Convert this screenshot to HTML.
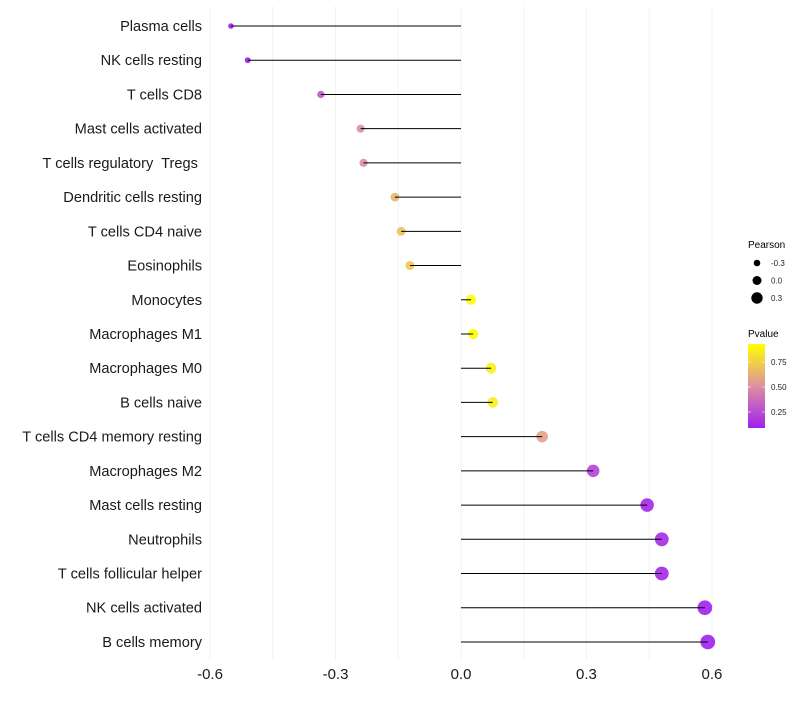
<!DOCTYPE html>
<html><head><meta charset="utf-8"><style>
body{margin:0;background:#fff;font-family:"Liberation Sans",sans-serif}
text{white-space:pre}
</style></head><body>
<svg id="c" width="800" height="700" xmlns="http://www.w3.org/2000/svg"></svg>
<script>
const categories=["Plasma cells","NK cells resting","T cells CD8","Mast cells activated","T cells regulatory  Tregs ","Dendritic cells resting","T cells CD4 naive","Eosinophils","Monocytes","Macrophages M1","Macrophages M0","B cells naive","T cells CD4 memory resting","Macrophages M2","Mast cells resting","Neutrophils","T cells follicular helper","NK cells activated","B cells memory"];
const pearson=[-0.55,-0.51,-0.335,-0.24,-0.233,-0.158,-0.143,-0.122,0.024,0.029,0.072,0.076,0.194,0.316,0.445,0.48,0.48,0.583,0.59];
const pvalue=[0.02,0.03,0.3,0.5,0.5,0.65,0.7,0.72,0.92,0.92,0.86,0.86,0.57,0.22,0.12,0.13,0.12,0.04,0.03];
const xTicks=[-0.6,-0.3,0.0,0.3,0.6];
const sizeLegend=[-0.3,0.0,0.3];
const pTicks=[0.25,0.5,0.75];
const NS="http://www.w3.org/2000/svg";
const svg=document.getElementById('c');
const x=v=>461+v*418.3;
const y=i=>26+i*34.22;
const r=v=>5+4*v;
const stops=[[160,32,240],[222,145,160],[255,255,0]];
function col(p){const t=Math.max(0,Math.min(1,(p-0.09)/0.84));const s=t<0.5?0:1;const f=(t-s*0.5)/0.5;const a=stops[s],b=stops[s+1];return `rgb(${a.map((c,k)=>Math.round(c+(b[k]-c)*f)).join(',')})`;}
function el(t,a){const e=document.createElementNS(NS,t);for(const k in a)e.setAttribute(k,a[k]);svg.appendChild(e);return e;}
for(let v=-0.6;v<=0.601;v+=0.15){
 const g=el('line',{x1:x(v),x2:x(v),y1:6,y2:660,stroke:'#f3f3f3','stroke-width':1});
 
 
}
xTicks.forEach(v=>{
 const t=el('text',{x:x(v),y:679,'text-anchor':'middle','font-size':15,fill:'#1a1a1a'});
 t.textContent=v.toFixed(1);
 
 
});
categories.forEach((c,i)=>{
 const t=el('text',{x:202,y:y(i)+5,'text-anchor':'end','font-size':14.6,fill:'#1a1a1a'});
 t.textContent=c;
 
 
 const p=el('circle',{cx:x(pearson[i]),cy:y(i),r:r(pearson[i]),fill:col(pvalue[i]),'fill-opacity':0.9});
 
 
 const l=el('line',{x1:x(0),x2:x(pearson[i]),y1:y(i),y2:y(i),stroke:'#000','stroke-width':1});
 
 
});
let t=el('text',{x:748,y:248,'font-size':10,fill:'#000'});t.textContent='Pearson';


sizeLegend.forEach((v,i)=>{
 const cy=263+i*17.5;
 const c=el('circle',{cx:757,cy:cy,r:r(v)-0.5,fill:'#000'});
 
 
 const tt=el('text',{x:771,y:cy+3,'font-size':8,fill:'#222'});tt.textContent=v.toFixed(1);
 
 
});
t=el('text',{x:748,y:337,'font-size':10,fill:'#000'});t.textContent='Pvalue';


const defs=el('defs',{});
const lg=document.createElementNS(NS,'linearGradient');lg.setAttribute('id','g');lg.setAttribute('x1',0);lg.setAttribute('y1',1);lg.setAttribute('x2',0);lg.setAttribute('y2',0);
stops.forEach((s,k)=>{const st=document.createElementNS(NS,'stop');st.setAttribute('offset',k/2);st.setAttribute('stop-color',`rgb(${s.join(',')})`);lg.appendChild(st);});
defs.appendChild(lg);
const cb=el('rect',{x:748,y:344,width:17,height:84,fill:'url(#g)'});


pTicks.forEach(v=>{
 const yy=428-(v-0.09)/0.84*84;
 el('line',{x1:748,x2:751,y1:yy,y2:yy,stroke:'#fff','stroke-width':0.6});
 el('line',{x1:762,x2:765,y1:yy,y2:yy,stroke:'#fff','stroke-width':0.6});
 const tt=el('text',{x:771,y:yy+3,'font-size':8,fill:'#222'});tt.textContent=v.toFixed(2);
 
 
});
</script>
</body></html>
